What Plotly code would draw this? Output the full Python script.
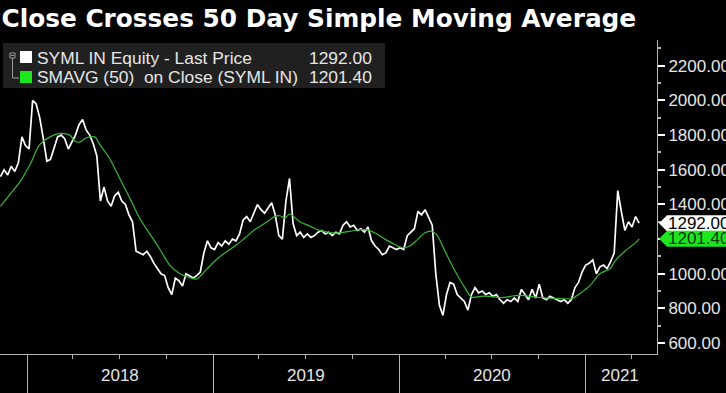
import plotly.graph_objects as go
import pandas as pd

# ---------------- data ----------------
price_start = "2017-11-10"   # weekly closes
price_values = [
    1560, 1600, 1570, 1620, 1590, 1640, 1790, 1740, 1720, 2000,
    1980, 1900, 1780, 1650, 1660, 1720, 1790, 1800, 1780, 1720,
    1760, 1800, 1860, 1890, 1830, 1800, 1750, 1680, 1420, 1500,
    1420, 1390, 1450, 1470, 1420, 1400, 1340, 1300, 1130, 1120,
    1110, 1130, 1100, 1060, 1030, 1000, 990, 920, 880, 975,
    960, 930, 1000, 985, 975, 990, 1010, 1120, 1190, 1150,
    1140, 1180, 1160, 1190, 1170, 1200, 1190, 1230, 1310, 1330,
    1300, 1350, 1400, 1370, 1350, 1380, 1410, 1340, 1220, 1200,
    1420, 1550, 1290, 1220, 1240, 1210, 1230, 1210, 1220, 1240,
    1250, 1230, 1240, 1220, 1240, 1230, 1280, 1300, 1270, 1280,
    1250, 1260, 1240, 1270, 1190, 1160, 1140, 1110, 1120, 1160,
    1150, 1140, 1150, 1140, 1220, 1240, 1260, 1360, 1340, 1370,
    1320, 1280, 1000, 820, 760, 880, 950, 940, 880, 860,
    840, 790, 880, 920, 890, 900, 880, 890, 870, 880,
    850, 830, 850, 840, 860, 840, 910, 880, 850, 910,
    860, 940, 860, 850, 870, 860, 850, 840, 850, 830,
    850, 920, 950, 1010, 1050, 1060, 1080, 1000, 1040, 1050,
    1030, 1070, 1120, 1480, 1360, 1250, 1300, 1270, 1330, 1292,
]

sma_dates = [
    "2017-11-10", "2017-11-29", "2017-12-18", "2018-01-07", "2018-01-26",
    "2018-02-15", "2018-03-07", "2018-03-26", "2018-04-05", "2018-04-15",
    "2018-04-24", "2018-05-04", "2018-05-14", "2018-05-24", "2018-06-12",
    "2018-07-02", "2018-07-22", "2018-08-10", "2018-08-30", "2018-09-19",
    "2018-10-08", "2018-10-28", "2018-11-16", "2018-11-30", "2018-12-16",
    "2019-01-05", "2019-01-24", "2019-02-13", "2019-03-04", "2019-03-24",
    "2019-04-12", "2019-05-02", "2019-05-12", "2019-05-22", "2019-05-31",
    "2019-06-20", "2019-07-10", "2019-07-29", "2019-08-28", "2019-09-26",
    "2019-10-26", "2019-11-15", "2019-12-04", "2019-12-23", "2020-01-08",
    "2020-01-22", "2020-02-07", "2020-02-20", "2020-03-05", "2020-03-15",
    "2020-03-31", "2020-04-20", "2020-05-09", "2020-05-23", "2020-06-08",
    "2020-06-27", "2020-07-17", "2020-08-25", "2020-10-03", "2020-11-11",
    "2020-12-05", "2020-12-20", "2021-01-09", "2021-01-29", "2021-02-18",
    "2021-02-28", "2021-03-19", "2021-04-08", "2021-04-16",
]
sma_values = [
    1390, 1460, 1530, 1630, 1745,
    1790, 1810, 1800, 1765, 1760,
    1780, 1790, 1790, 1745, 1665,
    1550, 1435, 1320, 1230, 1140,
    1050, 1000, 977, 970, 1015,
    1075, 1120, 1160, 1205, 1255,
    1290, 1330, 1335, 1320, 1345,
    1300, 1275, 1250, 1235, 1245,
    1255, 1235, 1200, 1170, 1150,
    1160, 1200, 1235, 1245, 1225,
    1130, 1015, 920, 865, 870,
    870, 863, 875, 863, 857,
    857, 885, 930, 1000, 1030,
    1075, 1130, 1177, 1201.4,
]

year_labels = ["2018", "2019", "2020", "2021"]
year_label_dates = ["2018-07-02", "2019-07-02", "2020-07-01", "2021-03-09"]
year_bounds = ["2018-01-01", "2019-01-01", "2020-01-01", "2021-01-01"]
y_ticks = [600, 800, 1000, 1200, 1400, 1600, 1800, 2000, 2200]
# the 1200.00 label sits behind the last-value tags in the reference
y_tick_labels = ["600.00", "800.00", "1000.00", "", "1400.00",
                 "1600.00", "1800.00", "2000.00", "2200.00"]
legend_names = ["SYML IN Equity - Last Price", "SMAVG (50)  on Close (SYML IN)"]
last_price = 1292.00
last_sma = 1201.40
title_text = "Close Crosses 50 Day Simple Moving Average"

# ---------------- layout geometry ----------------
W, H = 726, 393
L, R, T, B = 0, 69, 40, 39
PW, PH = W - L - R, H - T - B
Y_RANGE = [537, 2349]


def px(x):
    return (x - L) / PW


def py(y):
    return 1 - (y - T) / PH


def dy(pixels):
    return pixels * (Y_RANGE[1] - Y_RANGE[0]) / PH


price_dates = pd.date_range(price_start, periods=len(price_values), freq="7D")

AX = "#b4b4b4"
TXT = "#e6e6e6"
GREEN_LINE = "#35b835"
GREEN_BOX = "#1ee61e"
FONT = "Liberation Sans"

fig = go.Figure()
fig.add_trace(go.Scatter(x=price_dates, y=price_values, mode="lines",
                         line=dict(color="white", width=1.7),
                         showlegend=False, hoverinfo="skip"))
fig.add_trace(go.Scatter(x=pd.to_datetime(sma_dates), y=sma_values, mode="lines",
                         line=dict(color=GREEN_LINE, width=1.2, shape="spline"),
                         showlegend=False, hoverinfo="skip"))

shapes = []
annotations = []

# legend box
shapes.append(dict(type="rect", xref="paper", yref="paper",
                   x0=px(3), x1=px(385), y0=py(88), y1=py(43),
                   fillcolor="#202020", line=dict(width=0), layer="above"))
# tree icon
shapes.append(dict(type="rect", xref="paper", yref="paper",
                   x0=px(10), x1=px(15), y0=py(58), y1=py(53),
                   line=dict(color="#9a9a9a", width=1), layer="above"))
shapes.append(dict(type="line", xref="paper", yref="paper",
                   x0=px(11), x1=px(14), y0=py(55.5), y1=py(55.5),
                   line=dict(color="#9a9a9a", width=1), layer="above"))
shapes.append(dict(type="line", xref="paper", yref="paper",
                   x0=px(12.5), x1=px(12.5), y0=py(58), y1=py(78),
                   line=dict(color="#9a9a9a", width=1), layer="above"))
shapes.append(dict(type="line", xref="paper", yref="paper",
                   x0=px(12.5), x1=px(19), y0=py(78), y1=py(78),
                   line=dict(color="#9a9a9a", width=1), layer="above"))
# legend squares
shapes.append(dict(type="rect", xref="paper", yref="paper",
                   x0=px(20), x1=px(32), y0=py(63), y1=py(51),
                   fillcolor="white", line=dict(width=0), layer="above"))
shapes.append(dict(type="rect", xref="paper", yref="paper",
                   x0=px(20), x1=px(32), y0=py(83), y1=py(71),
                   fillcolor=GREEN_BOX, line=dict(width=0), layer="above"))

for name, val, yc in [(legend_names[0], last_price, 58), (legend_names[1], last_sma, 77)]:
    annotations.append(dict(text=name, xref="paper", yref="paper",
                            x=px(35), y=py(yc), xanchor="left", yanchor="middle",
                            showarrow=False, font=dict(family=FONT, size=17.4, color=TXT)))
    annotations.append(dict(text=f"{val:.2f}", xref="paper", yref="paper",
                            x=px(374), y=py(yc), xanchor="right", yanchor="middle",
                            showarrow=False, font=dict(family=FONT, size=17.4, color=TXT)))

# last value tags on the right axis
for val, bg, fg in [(last_price, "white", "black"), (last_sma, GREEN_BOX, "#0a3a0a")]:
    shapes.append(dict(type="path", xref="paper", yref="y",
                       path=(f"M {px(659)},{val} L {px(667)},{val + dy(8)} "
                             f"L {px(730)},{val + dy(8)} L {px(730)},{val - dy(8)} "
                             f"L {px(667)},{val - dy(8)} Z"),
                       fillcolor=bg, line=dict(width=0), layer="above"))
    annotations.append(dict(text=f"{val:.2f}", xref="paper", yref="y",
                            x=px(666), y=val, xanchor="left", yanchor="middle",
                            showarrow=False,
                            font=dict(family=FONT, size=17, color=fg)))

# year labels
for lab, d in zip(year_labels, year_label_dates):
    annotations.append(dict(text=lab, xref="x", yref="paper", x=d, y=py(375),
                            xanchor="center", yanchor="middle", showarrow=False,
                            font=dict(family=FONT, size=17, color=TXT)))

fig.update_layout(
    width=W, height=H,
    margin=dict(l=L, r=R, t=T, b=B, pad=0),
    paper_bgcolor="black", plot_bgcolor="black",
    showlegend=False,
    title=dict(text=f"<b>{title_text}</b>", x=0.002, xanchor="left",
               y=1 - 18 / H, yanchor="middle", yref="container",
               font=dict(family="DejaVu Sans", size=24.8, color="white")),
    xaxis=dict(type="date", range=["2017-11-09", "2021-05-21"],
               showgrid=False, zeroline=False, showline=True, linecolor=AX,
               linewidth=1, tickvals=year_bounds, ticks="outside", ticklen=39,
               tickcolor=AX, tickwidth=1, showticklabels=False,
               minor=dict(dtick="M3", tick0="2018-01-01", ticks="outside",
                          ticklen=4, tickcolor=AX, showgrid=False),
               automargin=False, fixedrange=True),
    yaxis=dict(side="right", range=Y_RANGE, showgrid=False, zeroline=False,
               showline=True, linecolor=AX, linewidth=1,
               tickvals=y_ticks, ticktext=y_tick_labels, ticks="outside",
               ticklen=7, tickcolor="white", tickwidth=2,
               tickfont=dict(family=FONT, size=17, color=TXT),
               minor=dict(dtick=100, ticks="outside", ticklen=3,
                          tickcolor=AX, showgrid=False),
               automargin=False, fixedrange=True),
    shapes=shapes,
    annotations=annotations,
)

fig.write_html("out.html", config={"displayModeBar": False},
               post_script="document.body.style.margin='0';document.body.style.overflow='hidden';")
